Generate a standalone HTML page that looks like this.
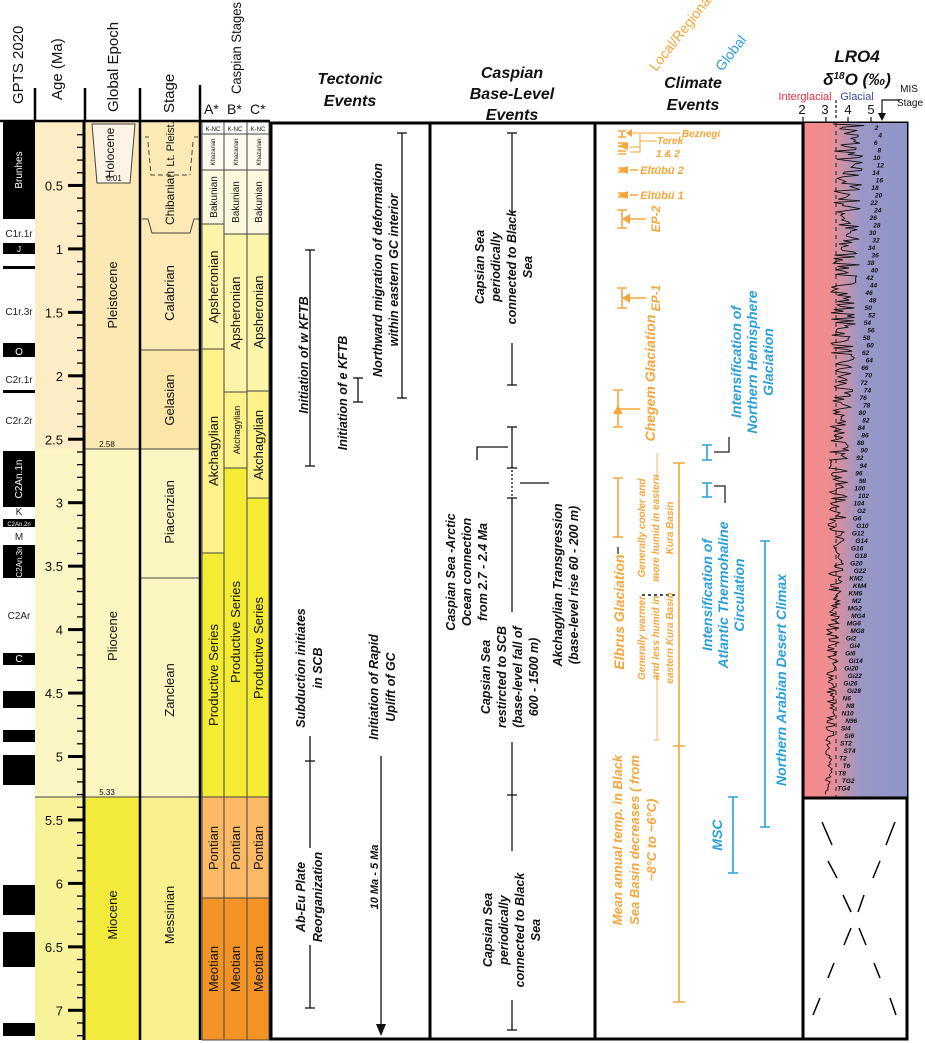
<!DOCTYPE html>
<html><head><meta charset="utf-8"><style>
html,body{margin:0;padding:0;background:#fff;}
svg{display:block;font-family:"Liberation Sans",sans-serif;}
.b{font-weight:bold;font-style:italic;}
</style></head><body>
<svg id="s" width="925" height="1043" viewBox="0 0 925 1043" xmlns="http://www.w3.org/2000/svg">
<defs>
<linearGradient id="lr" x1="0" x2="1" y1="0" y2="0">
<stop offset="0" stop-color="#f48a8a"/><stop offset="0.25" stop-color="#f08c90"/><stop offset="0.55" stop-color="#9a97c6"/><stop offset="1" stop-color="#8e96c8"/>
</linearGradient>
</defs>
<rect x="35" y="122" width="50" height="327" fill="#fcedc4"/>
<rect x="35" y="449" width="50" height="348" fill="#fbf6c4"/>
<rect x="35" y="797" width="50" height="243" fill="#f8f29a"/>
<rect x="85" y="122" width="55" height="327" fill="#fbe8b2"/>
<rect x="85" y="449" width="55" height="348" fill="#fbf6bf"/>
<rect x="85" y="797" width="55" height="243" fill="#f3eb3c"/>
<polygon points="92,124 135,124 130,183 97,183" fill="#fdf3e6" stroke="#444" stroke-width="1"/>
<rect x="140" y="122" width="60" height="228" fill="#fbeab6"/>
<rect x="140" y="350" width="60" height="99" fill="#fbe5a7"/>
<rect x="140" y="449" width="60" height="348" fill="#fbf5c2"/>
<rect x="140" y="797" width="60" height="243" fill="#f8f18e"/>
<line x1="140" y1="350" x2="200" y2="350" stroke="#444"/>
<line x1="140" y1="449" x2="200" y2="449" stroke="#444"/>
<line x1="140" y1="578" x2="200" y2="578" stroke="#444"/>
<line x1="35" y1="797" x2="200" y2="797" stroke="#444"/>
<line x1="85" y1="449" x2="140" y2="449" stroke="#444"/>
<polyline points="142,219 148,219 152,233 190,233 194,219 200,219" fill="none" stroke="#444"/>
<path d="M145,137 L149,137 M148,142 L151,175 L190,175 M193,142 L190,175 M194,137 L198,137" fill="none" stroke="#444" stroke-dasharray="5,3"/>
<g stroke="#444" stroke-width="1">
<rect x="202" y="122" width="22" height="12" fill="#fff"/>
<rect x="202" y="134" width="22" height="36" fill="#fefaf0"/>
<rect x="202" y="170" width="22" height="54" fill="#fdf7de"/>
<rect x="202" y="224" width="22" height="125" fill="#fcf4a8"/>
<rect x="202" y="349" width="22" height="204" fill="#fcf288"/>
<rect x="202" y="553" width="22" height="244" fill="#f4eb33"/>
<rect x="202" y="797" width="22" height="101" fill="#fbb865"/>
<rect x="202" y="898" width="22" height="142" fill="#f39325"/>
<rect x="224" y="122" width="23" height="12" fill="#fff"/>
<rect x="224" y="134" width="23" height="36" fill="#fefaf0"/>
<rect x="224" y="170" width="23" height="64" fill="#fdf7de"/>
<rect x="224" y="234" width="23" height="158" fill="#fcf4a8"/>
<rect x="224" y="392" width="23" height="76" fill="#fcf288"/>
<rect x="224" y="468" width="23" height="329" fill="#f4eb33"/>
<rect x="224" y="797" width="23" height="101" fill="#fbb865"/>
<rect x="224" y="898" width="23" height="142" fill="#f39325"/>
<rect x="247" y="122" width="22" height="12" fill="#fff"/>
<rect x="247" y="134" width="22" height="36" fill="#fefaf0"/>
<rect x="247" y="170" width="22" height="64" fill="#fdf7de"/>
<rect x="247" y="234" width="22" height="157" fill="#fcf4a8"/>
<rect x="247" y="391" width="22" height="107" fill="#fcf288"/>
<rect x="247" y="498" width="22" height="299" fill="#f4eb33"/>
<rect x="247" y="797" width="22" height="101" fill="#fbb865"/>
<rect x="247" y="898" width="22" height="142" fill="#f39325"/>
</g>
<g fill="#000">
<rect x="3" y="122" width="32" height="97"/>
<rect x="3" y="243" width="32" height="11"/>
<rect x="3" y="266" width="32" height="3"/>
<rect x="3" y="343" width="32" height="14"/>
<rect x="3" y="390" width="32" height="3"/>
<rect x="3" y="451" width="32" height="56"/>
<rect x="3" y="519" width="32" height="8"/>
<rect x="3" y="545" width="32" height="33"/>
<rect x="3" y="653" width="32" height="12"/>
<rect x="3" y="691" width="32" height="17"/>
<rect x="3" y="730" width="32" height="12"/>
<rect x="3" y="755" width="32" height="30"/>
<rect x="3" y="885" width="32" height="30"/>
<rect x="3" y="932" width="32" height="35"/>
<rect x="3" y="1023" width="32" height="13"/>
</g>
<g font-size="10" fill="#222" text-anchor="middle">
<text x="19" y="237">C1r.1r</text>
<text x="19" y="315">C1r.3r</text>
<text x="19" y="383">C2r.1r</text>
<text x="19" y="424">C2r.2r</text>
<text x="19" y="515">K</text>
<text x="19" y="540">M</text>
<text x="19" y="619">C2Ar</text>
<g fill="#fff"><text x="19" y="252" font-size="8">J</text><text x="19" y="355">O</text><text x="19" y="662">C</text>
<text x="19" y="526" font-size="6">C2An.2n</text>
<text transform="translate(22,170) rotate(-90)">Brunhes</text>
<text transform="translate(22,479) rotate(-90)">C2An.1n</text>
<text transform="translate(22,562) rotate(-90)" font-size="8">C2An.3n</text></g>
</g>
<line x1="84" y1="122" x2="84" y2="1040" stroke="#000" stroke-width="3"/>
<g id="ticks" stroke="#000"></g>
<g font-size="13" fill="#111" text-anchor="end" id="agelab"></g>
<g stroke="#000" stroke-width="2.5">
<line x1="140" y1="88" x2="140" y2="1040"/>
<line x1="200" y1="85" x2="200" y2="1040"/>
<line x1="35" y1="88" x2="35" y2="122"/>
<line x1="85" y1="88" x2="85" y2="122"/>
<line x1="0" y1="121" x2="270" y2="121"/>
</g>
<line x1="224" y1="122" x2="224" y2="1040" stroke="#444"/>
<line x1="247" y1="122" x2="247" y2="1040" stroke="#444"/>
<g font-size="12" fill="#111" text-anchor="middle">
<text transform="translate(114,153) rotate(-90)" font-size="12">Holocene</text>
<text x="114" y="181" font-size="8">0.01</text>
<text transform="translate(174,198) rotate(-90)" font-size="12">Chibanian</text>
<text transform="translate(174,144) rotate(-90)" font-size="11">Lt. Pleist.</text>
<text transform="translate(117,295) rotate(-90)" font-size="13">Pleistocene</text>
<text transform="translate(174,293) rotate(-90)" font-size="13">Calabrian</text>
<text transform="translate(174,400) rotate(-90)" font-size="13">Gelasian</text>
<text x="107" y="447" font-size="8">2.58</text>
<text transform="translate(174,512) rotate(-90)" font-size="13">Piacenzian</text>
<text transform="translate(117,636) rotate(-90)" font-size="13">Pliocene</text>
<text transform="translate(174,690) rotate(-90)" font-size="13">Zanclean</text>
<text x="107" y="795" font-size="8">5.33</text>
<text transform="translate(117,915) rotate(-90)" font-size="13">Miocene</text>
<text transform="translate(174,915) rotate(-90)" font-size="13">Messinian</text>
<g font-size="6"><text x="213" y="131">K-NC</text><text x="235" y="131">K-NC</text><text x="258" y="131">K-NC</text>
<text transform="translate(215,152) rotate(-90)">Khazarian</text><text transform="translate(238,152) rotate(-90)">Khazarian</text><text transform="translate(261,152) rotate(-90)">Khazarian</text></g>
<g font-size="10"><text transform="translate(217,197) rotate(-90)">Bakunian</text><text transform="translate(239,202) rotate(-90)">Bakunian</text><text transform="translate(262,202) rotate(-90)">Bakunian</text></g>
<g font-size="13"><text transform="translate(218,287) rotate(-90)">Apsheronian</text><text transform="translate(240,313) rotate(-90)">Apsheronian</text><text transform="translate(263,312) rotate(-90)">Apsheronian</text>
<text transform="translate(218,451) rotate(-90)">Akchagylian</text><text transform="translate(240,430) rotate(-90)" font-size="9">Akchagylian</text><text transform="translate(263,445) rotate(-90)">Akchagylian</text>
<text transform="translate(218,675) rotate(-90)">Productive Series</text><text transform="translate(240,632) rotate(-90)">Productive Series</text><text transform="translate(263,648) rotate(-90)">Productive Series</text>
<text transform="translate(218,848) rotate(-90)">Pontian</text><text transform="translate(240,848) rotate(-90)">Pontian</text><text transform="translate(263,848) rotate(-90)">Pontian</text>
<text transform="translate(218,969) rotate(-90)">Meotian</text><text transform="translate(240,969) rotate(-90)">Meotian</text><text transform="translate(263,969) rotate(-90)">Meotian</text></g>
</g>
<g font-size="15" fill="#111">
<text transform="translate(23,104) rotate(-90)">GPTS 2020</text>
<text transform="translate(62,100) rotate(-90)">Age (Ma)</text>
<text transform="translate(118,112) rotate(-90)">Global Epoch</text>
<text transform="translate(174,113) rotate(-90)">Stage</text>
<text transform="translate(241,94) rotate(-90)" font-size="14" textLength="92" lengthAdjust="spacingAndGlyphs">Caspian Stages</text>
<text x="204" y="114" font-size="14">A*</text><text x="227" y="114" font-size="14">B*</text><text x="250" y="114" font-size="14">C*</text>
</g>
<rect x="271" y="123" width="636" height="916" fill="none" stroke="#000" stroke-width="3"/>
<line x1="430" y1="123" x2="430" y2="1040" stroke="#000" stroke-width="3"/>
<line x1="595" y1="123" x2="595" y2="1040" stroke="#000" stroke-width="3"/>
<rect x="803" y="123" width="104" height="674" fill="url(#lr)"/>
<line x1="803" y1="123" x2="803" y2="1040" stroke="#000" stroke-width="3"/>
<line x1="803" y1="798" x2="907" y2="798" stroke="#000" stroke-width="3"/>
<line x1="836" y1="123" x2="836" y2="797" stroke="#222" stroke-dasharray="4,4"/>
<polyline id="curve" fill="none" stroke="#111" stroke-width="0.9" points=""/>
<g id="mis" font-size="6.5" font-style="italic" font-weight="bold" fill="#111"></g>
<g stroke="#000" stroke-width="1.5">
<line x1="822" y1="822" x2="832" y2="845"/><line x1="895" y1="822" x2="886" y2="845"/>
<line x1="828" y1="861" x2="837" y2="878"/><line x1="880" y1="861" x2="873" y2="878"/>
<line x1="843" y1="895" x2="851" y2="912"/><line x1="864" y1="895" x2="858" y2="912"/>
<line x1="844" y1="945" x2="851" y2="928"/><line x1="866" y1="945" x2="859" y2="928"/>
<line x1="828" y1="978" x2="834" y2="963"/><line x1="880" y1="978" x2="874" y2="963"/>
<line x1="813" y1="1015" x2="820" y2="998"/><line x1="896" y1="1015" x2="890" y2="998"/>
</g>
<g fill="#111" text-anchor="middle">
<text x="857" y="62" font-size="17" class="b">LRO4</text>
<text x="857" y="85" font-size="17" class="b">δ<tspan font-size="10" dy="-6">18</tspan><tspan dy="6">O (‰)</tspan></text>
<text x="805" y="100" font-size="11" fill="#e03040">Interglacial</text>
<text x="857" y="100" font-size="11" fill="#3e4aa0">Glacial</text>
<text x="802" y="114" font-size="13">2</text><text x="825" y="114" font-size="13">3</text><text x="848" y="114" font-size="13">4</text><text x="871" y="114" font-size="13">5</text>
<text x="909" y="92" font-size="10">MIS</text><text x="910" y="106" font-size="10">Stage</text>
</g>
<g stroke="#111" stroke-width="1.2" fill="none">
<line x1="803" y1="117" x2="803" y2="123"/><line x1="826" y1="117" x2="826" y2="123"/><line x1="848" y1="117" x2="848" y2="123"/><line x1="871" y1="117" x2="871" y2="123"/>
<line x1="836" y1="100" x2="836" y2="120" stroke-dasharray="3,2"/>
<polyline points="900,100 882,100 882,116"/>
</g>
<polygon points="878,113 886,113 882,121" fill="#111"/>
<g font-size="16" class="b" fill="#111" text-anchor="middle">
<text x="350" y="84">Tectonic</text><text x="350" y="106">Events</text>
<text x="512" y="78">Caspian</text><text x="512" y="99">Base-Level</text><text x="512" y="120">Events</text>
<text x="693" y="88">Climate</text><text x="693" y="110">Events</text>
</g>
<text transform="translate(656,72) rotate(-52)" font-size="14" fill="#f5a53a">Local/Regional</text>
<text transform="translate(722,72) rotate(-52)" font-size="14" fill="#2a9fd8">Global</text>
<g stroke="#111" stroke-width="1.3" fill="none">
<line x1="402" y1="133" x2="402" y2="398"/><line x1="397" y1="133" x2="407" y2="133"/><line x1="397" y1="398" x2="407" y2="398"/>
<line x1="310" y1="250" x2="310" y2="466"/><line x1="305" y1="250" x2="315" y2="250"/><line x1="305" y1="466" x2="315" y2="466"/>
<line x1="358" y1="378" x2="358" y2="402"/><line x1="353" y1="378" x2="363" y2="378"/><line x1="353" y1="402" x2="363" y2="402"/>
<line x1="310" y1="736" x2="310" y2="848"/><line x1="305" y1="761" x2="315" y2="761"/>
<line x1="310" y1="945" x2="310" y2="1008"/><line x1="305" y1="1008" x2="315" y2="1008"/>
<line x1="381" y1="756" x2="381" y2="1025"/>
</g>
<polygon points="376,1024 386,1024 381,1036" fill="#111"/>
<g font-size="12.5" class="b" fill="#111" text-anchor="middle">
<text transform="translate(382,270) rotate(-90)">Northward migration of deformation</text>
<text transform="translate(398,270) rotate(-90)">within eastern GC interior</text>
<text transform="translate(308,355) rotate(-90)">Initiation of w KFTB</text>
<text transform="translate(347,393) rotate(-90)">Initiation of e KFTB</text>
<text transform="translate(305,668) rotate(-90)">Subduction initiates</text>
<text transform="translate(322,668) rotate(-90)">in SCB</text>
<text transform="translate(378,687) rotate(-90)">Initiation of Rapid</text>
<text transform="translate(395,687) rotate(-90)">Uplift of GC</text>
<text transform="translate(378,877) rotate(-90)" font-size="11">10 Ma - 5 Ma</text>
<text transform="translate(305,897) rotate(-90)">Ab-Eu Plate</text>
<text transform="translate(322,897) rotate(-90)">Reorganization</text>
</g>
<g stroke="#111" stroke-width="1.3" fill="none">
<line x1="512" y1="133" x2="512" y2="213"/><line x1="507" y1="133" x2="517" y2="133"/>
<line x1="512" y1="343" x2="512" y2="385"/><line x1="507" y1="385" x2="517" y2="385"/>
<line x1="512" y1="427" x2="512" y2="468"/><line x1="507" y1="427" x2="517" y2="427"/><line x1="507" y1="468" x2="517" y2="468"/>
<line x1="512" y1="470" x2="512" y2="496" stroke-dasharray="2,2"/>
<line x1="507" y1="498" x2="517" y2="498"/>
<line x1="512" y1="498" x2="512" y2="612"/>
<line x1="512" y1="742" x2="512" y2="851"/><line x1="507" y1="795" x2="517" y2="795"/>
<line x1="512" y1="1000" x2="512" y2="1030"/><line x1="507" y1="1030" x2="517" y2="1030"/>
<polyline points="508,447 477,447 477,460"/>
<polyline points="520,483 549,483"/>
</g>
<g font-size="12.5" class="b" fill="#111" text-anchor="middle">
<text transform="translate(484,267) rotate(-90)">Capsian Sea</text>
<text transform="translate(500,267) rotate(-90)">periodically</text>
<text transform="translate(516,267) rotate(-90)">connected to Black</text>
<text transform="translate(532,267) rotate(-90)">Sea</text>
<text transform="translate(455,572) rotate(-90)">Caspian Sea -Arctic</text>
<text transform="translate(471,572) rotate(-90)">Ocean connection</text>
<text transform="translate(487,572) rotate(-90)">from 2.7 - 2.4 Ma</text>
<text transform="translate(562,585) rotate(-90)">Akchagylian Transgression</text>
<text transform="translate(578,585) rotate(-90)">(base-level rise 60 - 200 m)</text>
<text transform="translate(490,677) rotate(-90)">Capsian Sea</text>
<text transform="translate(506,677) rotate(-90)">restircted to SCB</text>
<text transform="translate(522,677) rotate(-90)">(base-level fall of</text>
<text transform="translate(538,677) rotate(-90)">600 - 1500 m)</text>
<text transform="translate(492,930) rotate(-90)">Capsian Sea</text>
<text transform="translate(508,930) rotate(-90)">periodically</text>
<text transform="translate(524,930) rotate(-90)">connected to Black</text>
<text transform="translate(540,930) rotate(-90)">Sea</text>
</g>
<g stroke="#f5a53a" stroke-width="1.6" fill="none">
<path d="M618,131 h8 M622,131 v6 M618,137 h8 M618,143 h8 M618,146 h8 M618,151 h8 M618,154 h8"/>
<path d="M630,133 h50 M630,147 h10 v-13 M640,147 v5 h-10 M640,141 h17" stroke-width="1"/>
<path d="M618,168 h8 M618,172 h8 M622,168 v4 M630,170 h8"/>
<path d="M618,193 h8 M618,197 h8 M622,193 v4 M630,195 h8"/>
<path d="M617,210 h10 M622,210 v18 M617,228 h10 M628,219 h18"/>
<path d="M617,288 h10 M622,288 v20 M617,308 h10 M628,298 h18"/>
<path d="M613,390 h10 M618,390 v37 M613,427 h10 M618,409 h22"/>
<path d="M613,478 h10 M618,478 v59 M613,537 h10"/>
<line x1="657" y1="453" x2="657" y2="479" stroke-width="0.8"/>
<line x1="657" y1="573" x2="657" y2="580" stroke-width="0.8"/>
<line x1="657" y1="675" x2="657" y2="740" stroke-width="0.8"/><line x1="654" y1="740" x2="660" y2="740" stroke-width="0.8"/>
<path d="M673,463 h12 M679,463 v520 M673,746 h12 M673,1002 h12 M679,983 v19"/>
</g>
<g fill="#f5a53a"><polygon points="618,146 628,142 628,150"/><polygon points="618,170 628,166 628,174"/><polygon points="618,195 628,191 628,199"/><polygon points="622,219 630,214 630,224"/><polygon points="622,298 630,293 630,303"/><polygon points="618,405 613,414 623,414"/><polygon points="626,133 632,129 632,137"/></g>
<line x1="618" y1="547" x2="618" y2="554" stroke="#222" stroke-width="1.3"/>
<line x1="642" y1="595" x2="676" y2="595" stroke="#111" stroke-width="1.5" stroke-dasharray="3,3"/>
<g font-size="10" class="b" fill="#f5a53a" text-anchor="middle">
<text x="701" y="137">Beznegi</text>
<text x="670" y="144">Terek</text><text x="668" y="157">1 &amp; 2</text>
<text x="662" y="174" font-size="11">Eltübü 2</text>
<text x="662" y="199" font-size="11">Eltübü 1</text>
<text transform="translate(660,219) rotate(-90)" font-size="12">EP-2</text>
<text transform="translate(660,298) rotate(-90)" font-size="12">EP-1</text>
<text transform="translate(655,378) rotate(-90)" font-size="14">Chegem Glaciation</text>
<text transform="translate(624,612) rotate(-90)" font-size="14">Elbrus Glaciation</text>
<text transform="translate(645,528) rotate(-90)">Generally cooler and</text>
<text transform="translate(659,528) rotate(-90)">more humid in eastern</text>
<text transform="translate(673,528) rotate(-90)">Kura Basin</text>
<text transform="translate(645,638) rotate(-90)">Generally warmer</text>
<text transform="translate(659,638) rotate(-90)">and less humid in</text>
<text transform="translate(673,638) rotate(-90)">eastern Kura Basin</text>
<text transform="translate(622,840) rotate(-90)" font-size="13">Mean annual temp. in Black</text>
<text transform="translate(639,840) rotate(-90)" font-size="13">Sea Basin decreases ( from</text>
<text transform="translate(656,840) rotate(-90)" font-size="13">~8°C to ~6°C)</text>
</g>
<g stroke="#2a9fd8" stroke-width="1.6" fill="none">
<path d="M702,445 h10 M707,445 v15 M702,460 h10"/>
<path d="M702,483 h10 M707,483 v14 M702,497 h10"/>
<path d="M760,541 h10 M765,541 v286 M760,827 h10"/>
<path d="M728,797 h10 M733,797 v76 M728,873 h10"/>
</g>
<g stroke="#222" stroke-width="1.3" fill="none">
<polyline points="714,452 729,452 729,437"/>
<polyline points="714,486 725,486 725,503"/>
</g>
<g font-size="14" class="b" fill="#2a9fd8" text-anchor="middle">
<text transform="translate(741,362) rotate(-90)">Intensification of</text>
<text transform="translate(757,362) rotate(-90)">Northern Hemisphere</text>
<text transform="translate(773,362) rotate(-90)">Glaciation</text>
<text transform="translate(712,595) rotate(-90)">Intensification of</text>
<text transform="translate(728,595) rotate(-90)">Atlantic Thermohaline</text>
<text transform="translate(744,595) rotate(-90)">Circulation</text>
<text transform="translate(786,680) rotate(-90)">Northern Arabian Desert Climax</text>
<text transform="translate(722,835) rotate(-90)">MSC</text>
</g>
</svg>
<script>
(function(){
var ns="http://www.w3.org/2000/svg";
function Y(t){return 122+126.9*t;}
var tk=document.getElementById("ticks"),al=document.getElementById("agelab");
for(var i=1;i<=72;i++){var y=Y(i/10);var l=document.createElementNS(ns,"line");var maj=(i%5==0);
l.setAttribute("x1",maj?68:77);l.setAttribute("x2",84);l.setAttribute("y1",y);l.setAttribute("y2",y);l.setAttribute("stroke-width",maj?3:1.3);tk.appendChild(l);
if(maj){var t=document.createElementNS(ns,"text");t.setAttribute("x",63);t.setAttribute("y",y+5);t.textContent=(i/10).toString();al.appendChild(t);}}
var seed=7;function r(){seed=(seed*16807)%2147483647;return seed/2147483647;}
var pts=[];for(var y=124;y<=796;y+=1.6){var f=(y-124)/672;var c=850-f*22;var a=(1-f)*14+3;pts.push((c+(r()-0.5)*2*a).toFixed(1)+","+y.toFixed(1));}
document.getElementById("curve").setAttribute("points",pts.join(" "));
var m=document.getElementById("mis");
var labs=["2","4","6","8","10","12","14","16","18","20","22","24","26","28","30","32","34","36","38","40","42","44","46","48","50","52","54","56","58","60","62","64","66","70","72","74","76","78","80","82","84","86","88","90","92","94","96","98","100","102","104","G2","G6","G10","G12","G14","G16","G18","G20","G22","KM2","KM4","KM6","M2","MG2","MG4","MG6","MG8","Gi2","Gi4","Gi6","Gi14","Gi20","Gi22","Gi26","Gi28","N6","N8","N10","N96","Si4","Si6","ST2","ST4","T2","T6","T8","TG2","TG4"];
for(var k=0;k<labs.length;k++){var y=128+k*(668/labs.length);var f=(y-124)/672;var x=875-f*38+((k%2)?4:0);var t=document.createElementNS(ns,"text");t.setAttribute("x",x);t.setAttribute("y",y+2);t.textContent=labs[k];m.appendChild(t);}
})();
</script>
</body></html>
